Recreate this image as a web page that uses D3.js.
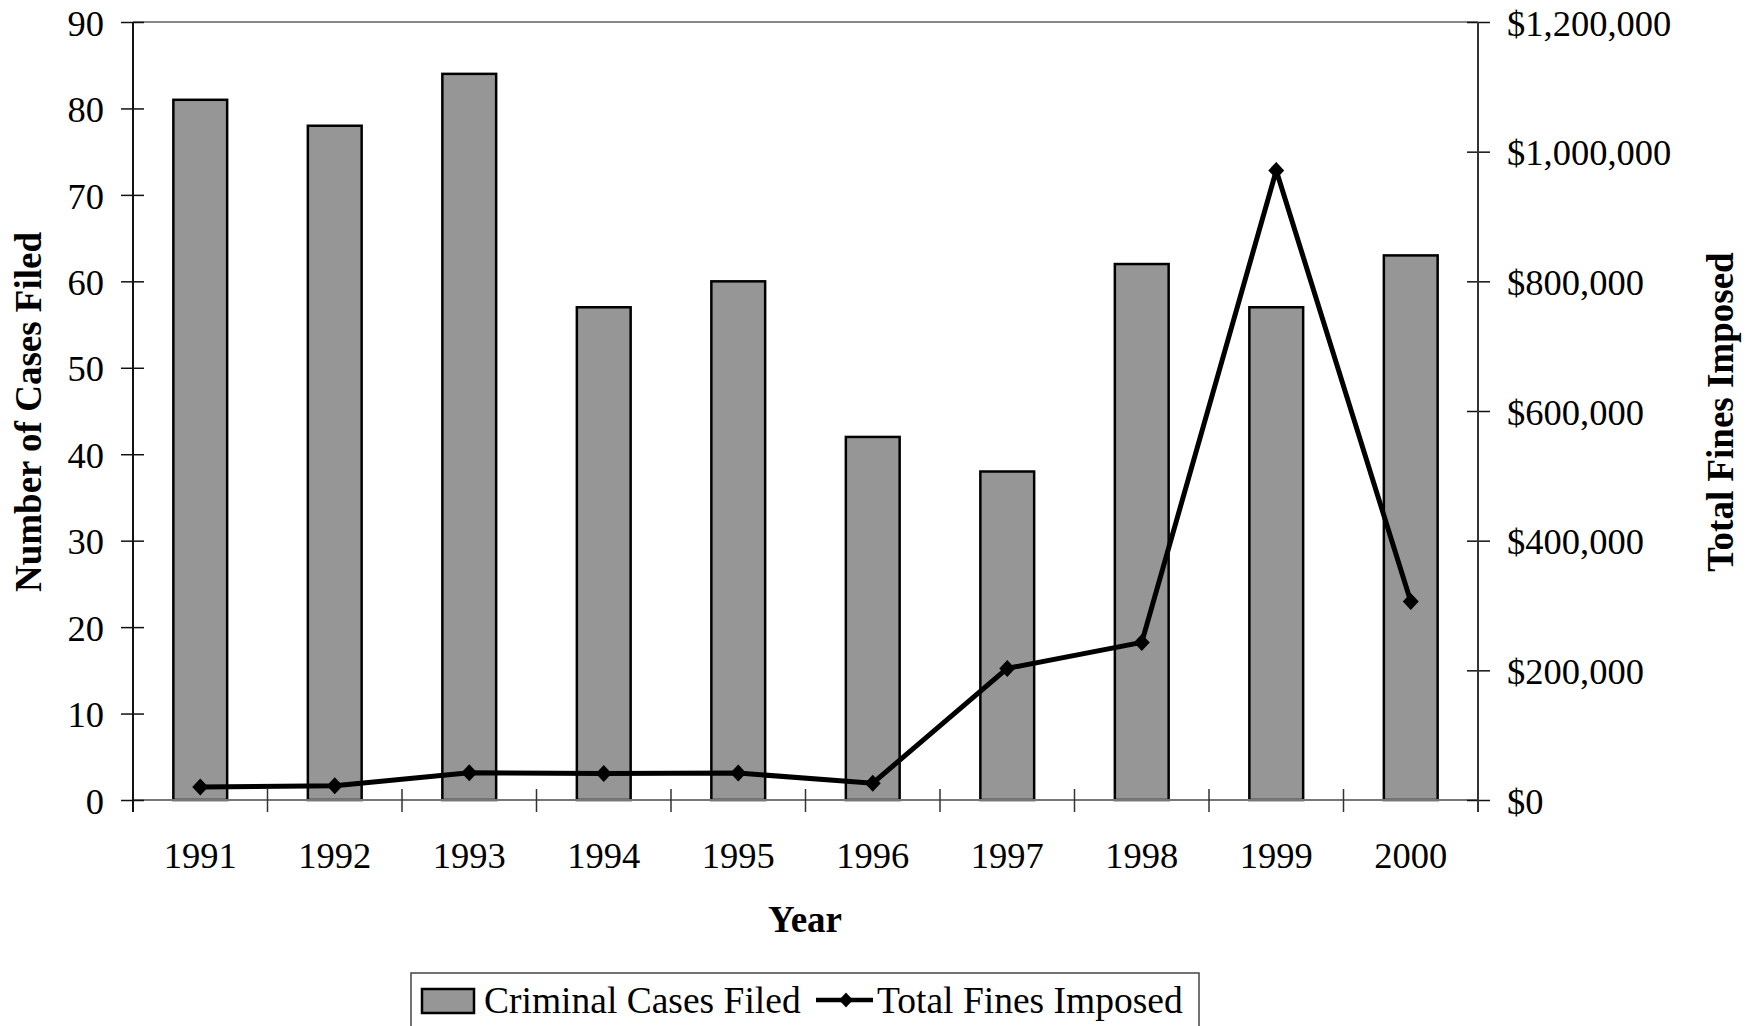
<!DOCTYPE html>
<html lang="en">
<head>
    <meta charset="UTF-8">
    <title>Criminal Cases Filed and Total Fines Imposed</title>
    <script src="https://d3js.org/d3.v7.min.js"></script>
    <style>
        body { margin: 0; background: #fff; overflow: hidden; }
        svg { display: block; font-family: "Liberation Serif", "Times New Roman", serif; }
    </style>
</head>
<body>
    <script>
    // data
    const years = ["1991", "1992", "1993", "1994", "1995", "1996", "1997", "1998", "1999", "2000"];
    const casesFiled = [81, 78, 84, 57, 60, 42, 38, 62, 57, 63];
    const finesImposed = [20000, 22000, 42000, 41000, 41500, 26000, 203000, 243000, 971000, 306000];
    const caseTicks = [0, 10, 20, 30, 40, 50, 60, 70, 80, 90];
    const fineTicks = [0, 200000, 400000, 600000, 800000, 1000000, 1200000];

    const width = 1763, height = 1026;
    const plotLeft = 133, plotRight = 1478, plotTop = 22, plotBottom = 800;

    const svg = d3.select("body").append("svg")
      .attr("width", width)
      .attr("height", height);

    const x = d3.scaleBand().domain(years).range([plotLeft, plotRight]).padding(0);
    const yL = d3.scaleLinear().domain([0, 90]).range([plotBottom, plotTop]);
    const yR = d3.scaleLinear().domain([0, 1200000]).range([plotBottom, plotTop]);
    const money = d3.format("$,.0f");

    // plot frame: top line is grey
    svg.append("line")
      .attr("x1", plotLeft).attr("x2", plotRight).attr("y1", plotTop).attr("y2", plotTop)
      .attr("stroke", "#888").attr("stroke-width", 2);

    // bars
    const barW = x.bandwidth() * 0.4;
    svg.append("g")
      .selectAll("rect")
      .data(casesFiled)
      .join("rect")
      .attr("x", (d, i) => x(years[i]) + (x.bandwidth() - barW) / 2)
      .attr("y", d => yL(d))
      .attr("width", barW)
      .attr("height", d => yL(0) - yL(d))
      .attr("fill", "#969696")
      .attr("stroke", "#000")
      .attr("stroke-width", 2.5);

    // x axis line
    svg.append("line")
      .attr("x1", plotLeft).attr("x2", plotRight).attr("y1", plotBottom).attr("y2", plotBottom)
      .attr("stroke", "#777").attr("stroke-width", 2);

    // left axis
    const leftAxis = d3.axisLeft(yL).tickValues(caseTicks).tickSize(0).tickPadding(0).tickFormat(d3.format("d"));
    const gL = svg.append("g").attr("transform", `translate(${plotLeft},0)`).call(leftAxis);
    gL.select(".domain").remove();
    gL.selectAll(".tick text")
      .attr("x", -29)
      .attr("dy", "0.36em")
      .attr("font-size", 36.5)
      .attr("font-family", "Liberation Serif")
      .attr("fill", "#000");
    gL.selectAll(".tick").append("line")
      .attr("x1", -12).attr("x2", 11)
      .attr("stroke", "#111").attr("stroke-width", 1.5);
    svg.append("line")
      .attr("x1", plotLeft).attr("x2", plotLeft).attr("y1", plotTop).attr("y2", plotBottom + 12)
      .attr("stroke", "#111").attr("stroke-width", 2);

    // right axis
    const rightAxis = d3.axisRight(yR).tickValues(fineTicks).tickSize(0).tickPadding(0).tickFormat(money);
    const gR = svg.append("g").attr("transform", `translate(${plotRight},0)`).call(rightAxis);
    gR.select(".domain").remove();
    gR.selectAll(".tick text")
      .attr("x", 29)
      .attr("dy", "0.36em")
      .attr("font-size", 36.5)
      .attr("font-family", "Liberation Serif")
      .attr("fill", "#000");
    gR.selectAll(".tick").append("line")
      .attr("x1", -11).attr("x2", 12)
      .attr("stroke", "#111").attr("stroke-width", 1.5);
    svg.append("line")
      .attr("x1", plotRight).attr("x2", plotRight).attr("y1", plotTop).attr("y2", plotBottom + 12)
      .attr("stroke", "#333").attr("stroke-width", 2);

    // category ticks at band edges
    svg.append("g")
      .selectAll("line")
      .data(years.slice(1))
      .join("line")
      .attr("x1", d => x(d)).attr("x2", d => x(d))
      .attr("y1", plotBottom - 11).attr("y2", plotBottom + 12)
      .attr("stroke", "#333").attr("stroke-width", 1.5);

    // year labels
    svg.append("g")
      .selectAll("text")
      .data(years)
      .join("text")
      .attr("x", d => x(d) + x.bandwidth() / 2)
      .attr("y", 868)
      .attr("text-anchor", "middle")
      .attr("font-size", 36.5)
      .text(d => d);

    // fines line
    const pts = finesImposed.map((v, i) => [x(years[i]) + x.bandwidth() / 2, yR(v)]);
    svg.append("path")
      .attr("d", d3.line()(pts))
      .attr("fill", "none")
      .attr("stroke", "#000")
      .attr("stroke-width", 5)
      .attr("stroke-linejoin", "miter");

    const diamond = (cx, cy, w, h) => `M${cx},${cy - h}L${cx + w},${cy}L${cx},${cy + h}L${cx - w},${cy}Z`;
    svg.append("g")
      .selectAll("path")
      .data(pts)
      .join("path")
      .attr("d", d => diamond(d[0], d[1], 8, 8.5))
      .attr("fill", "#000");

    // axis titles
    svg.append("text")
      .attr("transform", "translate(41,412) rotate(-90)")
      .attr("text-anchor", "middle")
      .attr("font-size", 37)
      .attr("font-weight", "bold")
      .text("Number of Cases Filed");

    svg.append("text")
      .attr("transform", "translate(1733,412) rotate(-90)")
      .attr("text-anchor", "middle")
      .attr("font-size", 37)
      .attr("font-weight", "bold")
      .text("Total Fines Imposed");

    svg.append("text")
      .attr("x", 805)
      .attr("y", 932)
      .attr("text-anchor", "middle")
      .attr("font-size", 37)
      .attr("font-weight", "bold")
      .text("Year");

    // legend (bottom edge runs off the picture)
    const lg = svg.append("g");
    lg.append("rect")
      .attr("x", 411).attr("y", 973)
      .attr("width", 788).attr("height", 80)
      .attr("fill", "#fff")
      .attr("stroke", "#444").attr("stroke-width", 1.5);
    lg.append("rect")
      .attr("x", 422).attr("y", 989)
      .attr("width", 52).attr("height", 24)
      .attr("fill", "#969696")
      .attr("stroke", "#000").attr("stroke-width", 2.5);
    lg.append("text")
      .attr("x", 484).attr("y", 1013)
      .attr("font-size", 37.5)
      .text("Criminal Cases Filed");
    lg.append("line")
      .attr("x1", 816).attr("x2", 873).attr("y1", 1000).attr("y2", 1000)
      .attr("stroke", "#000").attr("stroke-width", 4.5);
    lg.append("path")
      .attr("d", diamond(846, 1000, 7, 7.5))
      .attr("fill", "#000");
    lg.append("text")
      .attr("x", 877).attr("y", 1013)
      .attr("font-size", 37.5)
      .text("Total Fines Imposed");
    </script>
</body>
</html>
